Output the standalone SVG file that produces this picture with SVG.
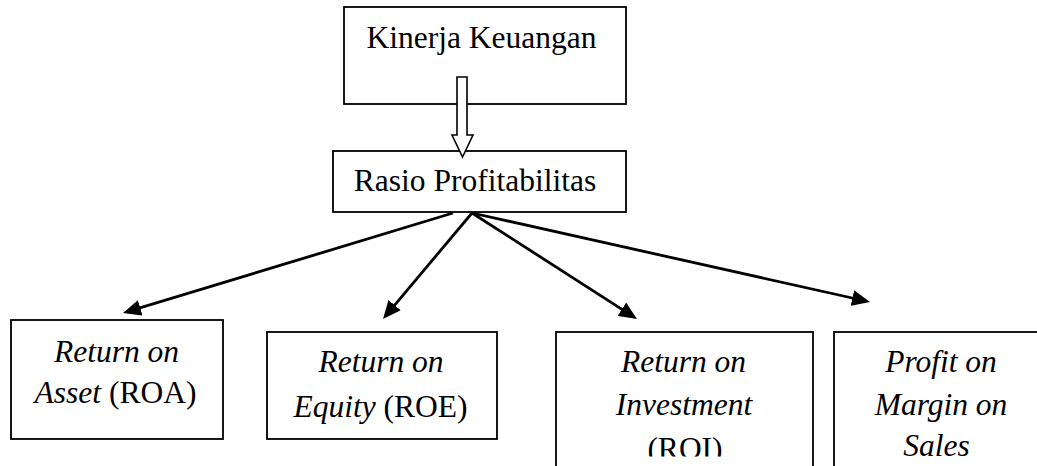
<svg xmlns="http://www.w3.org/2000/svg" width="1037" height="466" viewBox="0 0 1037 466">
<style>
.box{fill:#fff;stroke:#000;stroke-width:1.8}
.t{font-family:"Liberation Serif","Times New Roman",serif;font-size:31.5px;fill:#000;text-anchor:middle}
.i{font-style:italic}
.conn{stroke:#000;stroke-width:2.8;fill:none}
</style>
<defs>
<marker id="ah" markerUnits="userSpaceOnUse" viewBox="0 0 18 16" refX="9" refY="8" markerWidth="18" markerHeight="16" orient="auto">
<path d="M0,0 L18,8 L0,16 z" fill="#000"/>
</marker>
<clipPath id="cut"><rect x="0" y="0" width="1037" height="456.5"/></clipPath>
</defs>
<rect width="1037" height="466" fill="#fff"/>
<g id="kinerja">
<rect class="box" x="344" y="7" width="282" height="97"/>
<text class="t" x="481.5" y="48">Kinerja Keuangan</text>
</g>
<g id="rasio">
<rect class="box" x="333" y="151" width="293" height="61"/>
<text class="t" x="475" y="191">Rasio Profitabilitas</text>
</g>
<g id="roa">
<rect class="box" x="11" y="320" width="212" height="119"/>
<text class="t i" x="116.5" y="362">Return on</text>
<text class="t" x="115.5" y="403"><tspan class="i">Asset</tspan> (ROA)</text>
</g>
<g id="roe">
<rect class="box" x="267" y="332" width="230" height="107"/>
<text class="t i" x="381" y="372">Return on</text>
<text class="t" x="380.5" y="417"><tspan class="i">Equity</tspan> (ROE)</text>
</g>
<g id="roi">
<rect class="box" x="556" y="332" width="257" height="140"/>
<g clip-path="url(#cut)">
<text class="t i" x="683.5" y="372">Return on</text>
<text class="t i" x="684" y="415">Investment</text>
<text class="t" x="685" y="459">(ROI)</text>
</g>
</g>
<g id="profit">
<rect class="box" x="834" y="332" width="220" height="140"/>
<text class="t i" x="941" y="372">Profit on</text>
<text class="t i" x="941" y="415">Margin on</text>
<text class="t i" x="936.5" y="456">Sales</text>
</g>
<g id="connectors">
<path d="M457,77 H467 V135 H473 L462.5,157 L452,135 H457 Z" fill="#fff" stroke="#000" stroke-width="1.6"/>
<line class="conn" x1="453" y1="213" x2="131.6" y2="310.4" marker-end="url(#ah)"/>
<line class="conn" x1="472" y1="213" x2="388.8" y2="312.1" marker-end="url(#ah)"/>
<line class="conn" x1="472" y1="213" x2="629.4" y2="314.1" marker-end="url(#ah)"/>
<line class="conn" x1="472" y1="213" x2="861.2" y2="300.0" marker-end="url(#ah)"/>
</g>
</svg>
